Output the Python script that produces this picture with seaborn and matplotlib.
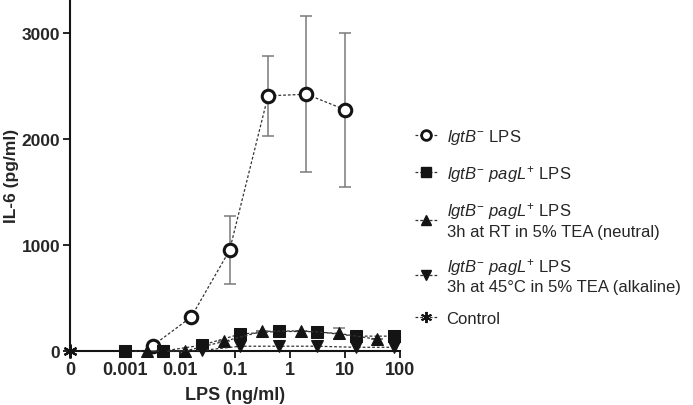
import matplotlib
matplotlib.use('Agg')
import matplotlib.pyplot as plt
import pandas as pd
import seaborn as sns
from matplotlib.lines import Line2D

# data (x in ng/ml, y in pg/ml)
circ_x = [0.0032, 0.016, 0.08, 0.4, 2, 10]
circ_y = [50, 320, 950, 2405, 2420, 2275]
circ_sd = [0, 0, 318, 378, 737, 726]

sq_x = [0.001, 0.005, 0.025, 0.125, 0.625, 3.125, 15.625, 78.125]
sq_y = [0, 0, 55, 160, 185, 182, 140, 140]

up_x = [0.0025, 0.0125, 0.0625, 0.3125, 1.5625, 7.8125, 39.0625]
up_y = [0, 0, 90, 185, 190, 165, 110]
up_sd = [0, 0, 0, 0, 0, 55, 0]

dn_x = [0.005, 0.025, 0.125, 0.625, 3.125, 15.625, 78.125]
dn_y = [0, 5, 45, 45, 45, 35, 35]

ctrl_x = [0.0001]   # drawn at the "0" position
ctrl_y = [0]

xticks = [0.0001, 0.001, 0.01, 0.1, 1, 10, 100]
xticklabels = ['0', '0.001', '0.01', '0.1', '1', '10', '100']
yticks = [0, 1000, 2000, 3000]

labels = [
    r'$\mathit{lgtB}^{-}$ LPS',
    r'$\mathit{lgtB}^{-}$ $\mathit{pagL}^{+}$ LPS',
    r'$\mathit{lgtB}^{-}$ $\mathit{pagL}^{+}$ LPS' + '\n3h at RT in 5% TEA (neutral)',
    r'$\mathit{lgtB}^{-}$ $\mathit{pagL}^{+}$ LPS' + '\n3h at 45°C in 5% TEA (alkaline)',
    'Control',
]

sns.set_style('ticks')
plt.rcParams['font.family'] = ['Liberation Sans', 'DejaVu Sans']
plt.rcParams['mathtext.fontset'] = 'custom'
plt.rcParams['mathtext.rm'] = 'Liberation Sans'
plt.rcParams['mathtext.it'] = 'Liberation Sans:italic'
plt.rcParams['mathtext.bf'] = 'Liberation Sans:bold'

fig, ax = plt.subplots(figsize=(6.93, 4.06), dpi=100)
fig.subplots_adjust(left=0.101, right=0.577, bottom=0.133, top=0.998)

k = '#141414'
line_kw = dict(color='#333333', linewidth=0.9, linestyle=(0, (2.2, 1.6)))
err_kw = dict(fmt='none', ecolor='#7a7a7a', elinewidth=1.1, capsize=4, capthick=1.1, zorder=2)

ax.errorbar(circ_x, circ_y, yerr=circ_sd, **err_kw)
ax.errorbar(up_x, up_y, yerr=up_sd, **err_kw)

series = [
    (circ_x, circ_y, 'o', dict(markersize=9, markerfacecolor='white', markeredgecolor=k, markeredgewidth=2.2)),
    (sq_x, sq_y, 's', dict(markersize=8, markerfacecolor=k, markeredgecolor=k)),
    (up_x, up_y, '^', dict(markersize=8.5, markerfacecolor=k, markeredgecolor=k)),
    (dn_x, dn_y, 'v', dict(markersize=8.5, markerfacecolor=k, markeredgecolor=k)),
]
for xs, ys, m, mk in series:
    df = pd.DataFrame({'x': xs, 'y': ys})
    sns.lineplot(data=df, x='x', y='y', ax=ax, marker=m, clip_on=False, zorder=3, **line_kw, **mk)

ax.plot(ctrl_x, ctrl_y, linestyle='none', marker=(6, 2, 0), markersize=10,
        markeredgewidth=1.6, color=k, clip_on=False, zorder=4)

ax.set_xscale('log')
ax.set_xlim(0.0001, 100)
ax.set_ylim(0, 3310)
ax.set_xticks(xticks)
ax.set_xticklabels(xticklabels)
ax.xaxis.set_minor_locator(matplotlib.ticker.NullLocator())
ax.set_yticks(yticks)
ax.tick_params(axis='x', labelsize=13, length=5, width=1.3, color=k, pad=2)
ax.tick_params(axis='y', labelsize=12.5, length=5, width=1.3, color=k, pad=2)
for t in ax.get_xticklabels() + ax.get_yticklabels():
    t.set_fontweight('bold')
ax.set_xlabel('LPS (ng/ml)', fontsize=13, fontweight='bold', labelpad=6)
ax.set_ylabel('IL-6 (pg/ml)', fontsize=12.5, fontweight='bold', va='center')
ax.yaxis.set_label_coords(-0.178, 0.5)
for s in ['left', 'bottom']:
    ax.spines[s].set_linewidth(1.5)
    ax.spines[s].set_color(k)
sns.despine(ax=ax)

lk = dict(color='#333333', linewidth=0.9, linestyle=(0, (2.2, 1.6)))
handles = [
    Line2D([], [], marker='o', markersize=7, markerfacecolor='white', markeredgecolor=k, markeredgewidth=2, **lk),
    Line2D([], [], marker='s', markersize=7, markerfacecolor=k, markeredgecolor=k, **lk),
    Line2D([], [], marker='^', markersize=7, markerfacecolor=k, markeredgecolor=k, **lk),
    Line2D([], [], marker='v', markersize=7, markerfacecolor=k, markeredgecolor=k, **lk),
    Line2D([], [], marker=(6, 2, 0), markersize=8, markeredgewidth=1.4, markeredgecolor=k, **lk),
]
fig.legend(handles, labels, loc='center left', bbox_to_anchor=(0.577, 0.44),
           frameon=False, fontsize=12, handlelength=1.3, handletextpad=0.6,
           labelspacing=1.0)

fig.savefig('out.png', dpi=100)
